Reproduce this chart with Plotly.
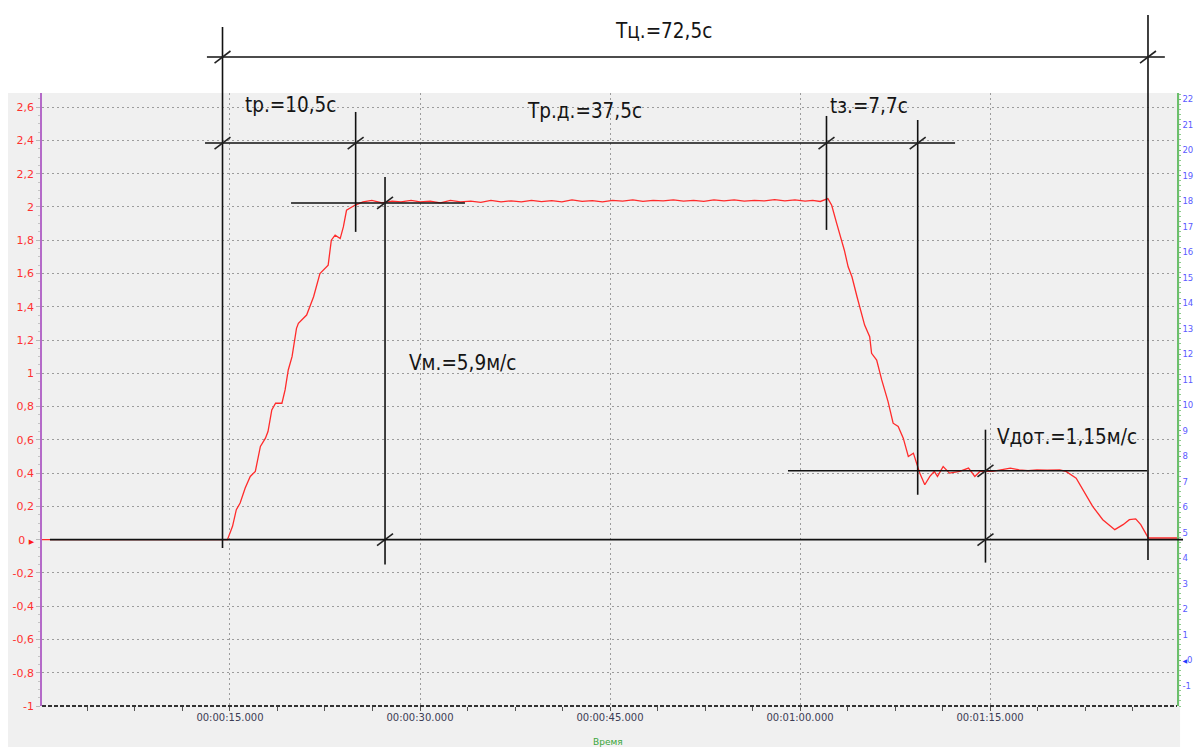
import plotly.graph_objects as go

# ---------------- data ----------------
time_s = [0.0, 14.8, 15.2, 15.5, 15.8, 16.2, 16.6, 17.0, 17.4, 17.8, 18.0, 18.3, 18.6, 19.1,
          19.35, 19.6, 19.9, 20.25, 20.4, 21.05, 21.6, 22.1, 22.75, 23.0, 23.3, 23.7, 23.95,
          24.2, 24.85,
          25.5, 26.2, 27.0, 27.8, 28.5, 29.3, 30.0, 30.8, 31.6, 32.4, 33.2, 34.0, 34.8, 35.6,
          36.4, 37.2, 38.0, 38.8, 39.6, 40.4, 41.2, 42.0, 42.8, 43.6, 44.4, 45.2, 46.0, 46.8,
          47.6, 48.4, 49.2, 50.0, 50.8, 51.6, 52.4, 53.2, 54.0, 54.8, 55.6, 56.4, 57.2, 58.0,
          58.8, 59.6, 60.4, 61.0, 61.6, 62.2,
          62.5, 62.9, 63.3, 63.5, 63.8, 64.1, 64.5, 64.7, 65.1, 65.5, 65.65, 66.05, 66.45,
          66.95, 67.35, 67.75, 68.15, 68.55, 68.95, 69.2, 69.45, 69.85, 70.25, 70.6, 70.85,
          71.3, 71.8, 72.6, 73.3, 73.8, 74.2, 75.2, 76.0, 76.6, 77.3, 78.0, 78.7, 79.5, 80.5,
          81.0, 81.8, 82.5, 83.1, 83.9, 84.85, 85.5, 86.0, 86.5, 86.9, 87.2, 87.5, 89.8]
speed = [0.0, 0.0, 0.08, 0.18, 0.22, 0.31, 0.38, 0.41, 0.56, 0.61, 0.65, 0.78, 0.82, 0.82,
         0.90, 1.02, 1.10, 1.27, 1.30, 1.35, 1.46, 1.60, 1.65, 1.80, 1.83, 1.81, 1.88,
         1.98, 2.01,
         2.03, 2.04, 2.025, 2.035, 2.03, 2.04, 2.03, 2.035, 2.025, 2.04, 2.03, 2.035, 2.028, 2.04,
         2.03, 2.037, 2.03, 2.04, 2.032, 2.038, 2.03, 2.042, 2.033, 2.038, 2.03, 2.04, 2.035, 2.042,
         2.034, 2.04, 2.036, 2.043, 2.035, 2.04, 2.034, 2.042, 2.036, 2.043, 2.035, 2.04, 2.036, 2.044,
         2.037, 2.042, 2.035, 2.04, 2.033, 2.05,
         2.01, 1.90, 1.80, 1.74, 1.64, 1.58, 1.46, 1.40, 1.29, 1.22, 1.12, 1.08, 0.96,
         0.83, 0.70, 0.68, 0.61, 0.50, 0.52, 0.46, 0.40, 0.33, 0.38, 0.41, 0.38,
         0.44, 0.40, 0.41, 0.43, 0.38, 0.41, 0.41, 0.42, 0.43, 0.42, 0.415, 0.42, 0.418, 0.42,
         0.41, 0.37, 0.28, 0.20, 0.12, 0.06, 0.09, 0.12, 0.125, 0.09, 0.05, 0.01, 0.01]

x_tick_vals = [15, 30, 45, 60, 75]
x_tick_text = ["00:00:15.000", "00:00:30.000", "00:00:45.000", "00:01:00.000", "00:01:15.000"]
y_tick_vals = [-1.0, -0.8, -0.6, -0.4, -0.2, 0.0, 0.2, 0.4, 0.6, 0.8, 1.0, 1.2, 1.4, 1.6,
               1.8, 2.0, 2.2, 2.4, 2.6]
y_tick_text = ["-1", "-0,8", "-0,6", "-0,4", "-0,2",
               "0\u00a0<span style='font-size:7px;color:#ff1a1a'>\u25B6</span>",
               "0,2", "0,4", "0,6", "0,8",
               "1", "1,2", "1,4", "1,6", "1,8", "2", "2,2", "2,4", "2,6"]
y2_tick_vals = list(range(-1, 23))
y2_tick_text = [("<span style='font-size:6px;color:#1f3cff'>\u25C0</span>0" if v == 0 else str(v))
                for v in y2_tick_vals]

# measurement marks (seconds / m-units of left axis)
t_cycle = [14.41, 87.47]          # Tц
t_accel = [14.41, 24.92]          # tр
t_decel = [62.09, 69.29]          # tз
t_vmax_mark = 27.24               # Vм measuring line
t_vcreep_mark = 74.64             # Vдот measuring line
level_tr = 2.384
v_max = 2.024
v_creep = 0.414
v_zero = 0.0

labels = {
    "cycle": "Tц.=72,5c",
    "accel": "tр.=10,5c",
    "run": "Tр.д.=37,5c",
    "decel": "tз.=7,7c",
    "vmax": "Vм.=5,9м/с",
    "vcreep": "Vдот.=1,15м/с",
}

BLACK = "#111111"
TXT_FONT = "Liberation Sans Narrow, Arial Narrow, DejaVu Sans Condensed, Liberation Sans, sans-serif"

fig = go.Figure()
fig.add_trace(go.Scatter(x=time_s, y=speed, mode="lines",
                         line=dict(color="#ff2b2b", width=1.3), showlegend=False,
                         hoverinfo="skip"))
fig.add_trace(go.Scatter(x=[None], y=[None], yaxis="y2", mode="lines", showlegend=False))

shapes = []
# grey panel (left white strip and top band stay white)
shapes.append(dict(type="rect", xref="paper", yref="paper", x0=-0.03, x1=1.0027,
                   y0=-0.07, y1=1.0, fillcolor="#f0f0f0", line=dict(width=0), layer="below"))
# x axis dashed line
shapes.append(dict(type="line", xref="paper", yref="paper", x0=0, x1=1, y0=0, y1=0,
                   line=dict(color="#333333", width=2, dash="4px,2px")))


def hline(x0, x1, y, yref="y", xref="x", w=1.6):
    shapes.append(dict(type="line", xref=xref, yref=yref, x0=x0, x1=x1, y0=y, y1=y,
                       line=dict(color=BLACK, width=w)))


def vline(x, y0, y1, yref="y", w=1.6):
    shapes.append(dict(type="line", xref="x", yref=yref, x0=x, x1=x, y0=y0, y1=y1,
                       line=dict(color=BLACK, width=w)))


def slash(x, y, yref="y"):
    dx = 0.63
    dy = 0.036 if yref == "y" else 0.0098
    shapes.append(dict(type="line", xref="x", yref=yref, x0=x - dx, x1=x + dx,
                       y0=y - dy, y1=y + dy, line=dict(color="#222222", width=1.6)))


# Tц dimension (above plot)
hline(13.18, 88.8, 1.0587, yref="paper")
vline(t_cycle[0], 0.2577, 1.1077, yref="paper")
vline(t_cycle[1], 0.2382, 1.1272, yref="paper")
slash(t_cycle[0], 1.0587, yref="paper")
slash(t_cycle[1], 1.0587, yref="paper")

# tр / Tр.д. / tз line
hline(13.03, 72.24, level_tr)
vline(t_accel[1], 2.571, 1.85)
vline(t_decel[0], 2.547, 1.862)
vline(t_decel[1], 2.523, 0.270)
for tt in [t_accel[0], t_accel[1], t_decel[0], t_decel[1]]:
    slash(tt, level_tr)

# Vм
hline(19.82, 33.55, v_max)
vline(t_vmax_mark, 2.180, -0.150)
slash(t_vmax_mark, v_max)
slash(t_vmax_mark, v_zero)

# zero baseline
hline(0.007, 1.0053, v_zero, xref="paper")

# Vдот
hline(59.05, 87.39, v_creep)
vline(t_vcreep_mark, 0.661, -0.138)
slash(t_vcreep_mark, v_creep)
slash(t_vcreep_mark, v_zero)

annotations = []


def label(text, x, y, yref="y", size=20.5):
    annotations.append(dict(text=text, x=x, y=y, xref="x", yref=yref, showarrow=False,
                            xanchor="center", yanchor="middle",
                            font=dict(family=TXT_FONT, size=size, color="#151515")))


label(labels["cycle"], 49.26, 1.101, yref="paper")
label(labels["accel"], 19.74, 2.613)
label(labels["run"], 42.99, 2.577)
label(labels["decel"], 65.45, 2.607)
label(labels["vmax"], 33.32, 1.06)
label(labels["vcreep"], 81.08, 0.619)

# x axis title
annotations.append(dict(text="Время", x=0.4987, y=-0.0587, xref="paper", yref="paper",
                        showarrow=False, xanchor="center", yanchor="middle",
                        font=dict(family="DejaVu Sans", size=9, color="#3aa63a")))

fig.update_layout(
    width=1195, height=747, autosize=False,
    margin=dict(l=42, r=18, t=93, b=41, autoexpand=False),
    paper_bgcolor="white", plot_bgcolor="#f0f0f0",
    showlegend=False,
    shapes=shapes, annotations=annotations,
    xaxis=dict(range=[0.16, 89.76], tickvals=x_tick_vals, ticktext=x_tick_text,
               automargin=False,
               showgrid=True, gridcolor="#9c9c9c", griddash="2px,3px", gridwidth=1,
               zeroline=False, showline=False, ticks="",
               tickfont=dict(family="DejaVu Sans", size=10, color="#3c3c55"),
               ticklabelstandoff=4,
               minor=dict(ticks="outside", ticklen=4, tickcolor="#555555", dtick=3.75,
                          tick0=0, showgrid=False)),
    yaxis=dict(range=[-1.0, 2.685], tickvals=y_tick_vals, ticktext=y_tick_text,
               automargin=False,
               showgrid=True, gridcolor="#9c9c9c", griddash="2px,3px", gridwidth=1,
               zeroline=False, showline=True, linecolor="#b46ac8", linewidth=1.5,
               ticks="outside", ticklen=4, tickcolor="#b8b8b8",
               tickfont=dict(family="DejaVu Sans", size=11, color="#ff3030"),
               minor=dict(ticks="outside", ticklen=2, tickcolor="#c4c4c4", dtick=0.05,
                          showgrid=False)),
    yaxis2=dict(overlaying="y", side="right", range=[-1.80, 22.24],
                tickvals=y2_tick_vals, ticktext=y2_tick_text, automargin=False,
                showgrid=False, zeroline=False, showline=True, linecolor="#6cbf6c",
                linewidth=1.5, ticks="outside", ticklen=2, tickcolor="#6cbf6c",
                ticklabelstandoff=0,
                tickfont=dict(family="DejaVu Sans", size=8.5, color="#5a5aff"),
                minor=dict(ticks="outside", ticklen=2, tickcolor="#8ccc8c", dtick=0.2,
                           showgrid=False)),
)

# remove the default page margin so the 1195x747 figure fills the window exactly
fig.write_html("out.html",
               config={"displayModeBar": False},
               post_script="document.body.style.margin='0';"
                           "document.body.style.overflow='hidden';")
